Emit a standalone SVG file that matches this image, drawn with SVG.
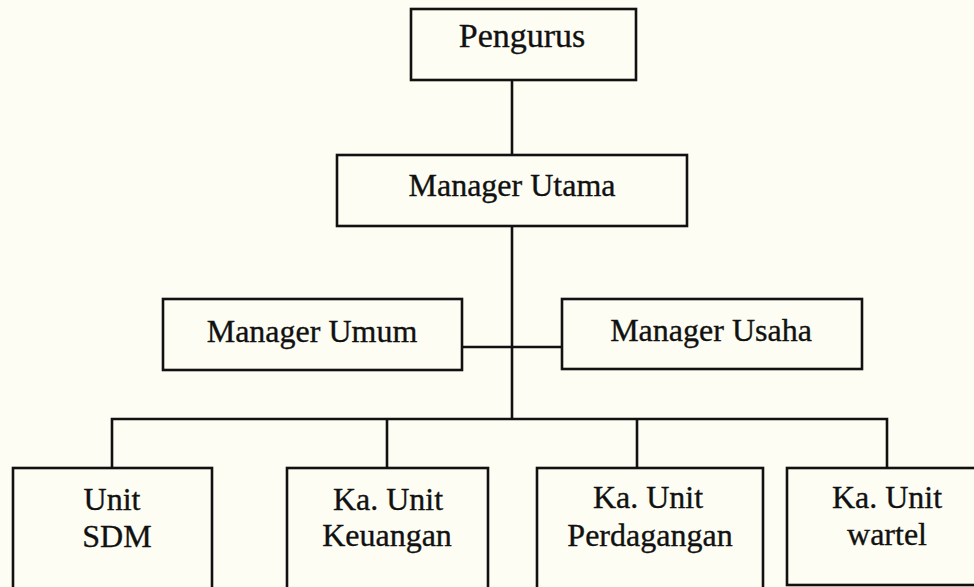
<svg xmlns="http://www.w3.org/2000/svg" width="974" height="587" viewBox="0 0 974 587">
  <style>
    .box { fill: none; stroke: #111; stroke-width: 2.6; }
    .wire { fill: none; stroke: #111; stroke-width: 2.6; }
    .lbl { font-family: "Liberation Serif", "Times New Roman", serif; font-size: 32px; fill: #111; stroke: #111; stroke-width: 0.35; text-anchor: middle; }
    .big { font-size: 34px; }
  </style>
  <rect width="974" height="587" fill="#fdfdf3"/>

  <g id="connectors">
    <line class="wire" x1="512" y1="80" x2="512" y2="155"/>
    <line class="wire" x1="512" y1="226" x2="512" y2="420"/>
    <line class="wire" x1="462" y1="347" x2="562" y2="347"/>
    <polyline class="wire" points="112,468 112,419 887,419 887,468"/>
    <line class="wire" x1="387" y1="419" x2="387" y2="468"/>
    <line class="wire" x1="637" y1="419" x2="637" y2="468"/>
  </g>

  <g id="pengurus">
    <rect class="box" x="411" y="9" width="225" height="71"/>
    <text class="lbl big" x="522" y="47">Pengurus</text>
  </g>
  <g id="manager-utama">
    <rect class="box" x="337" y="155" width="350" height="71"/>
    <text class="lbl" x="512" y="196">Manager Utama</text>
  </g>
  <g id="manager-umum">
    <rect class="box" x="163" y="299" width="299" height="71"/>
    <text class="lbl" x="312" y="342">Manager Umum</text>
  </g>
  <g id="manager-usaha">
    <rect class="box" x="562" y="299" width="300" height="70"/>
    <text class="lbl" x="711" y="341">Manager Usaha</text>
  </g>
  <g id="unit-sdm">
    <rect class="box" x="13" y="468" width="199" height="140"/>
    <text class="lbl" x="112" y="510">Unit</text>
    <text class="lbl" x="117" y="547">SDM</text>
  </g>
  <g id="unit-keuangan">
    <rect class="box" x="287" y="468" width="201" height="140"/>
    <text class="lbl" x="388" y="510">Ka. Unit</text>
    <text class="lbl" x="387" y="546">Keuangan</text>
  </g>
  <g id="unit-perdagangan">
    <rect class="box" x="537" y="468" width="226" height="140"/>
    <text class="lbl" x="648" y="508">Ka. Unit</text>
    <text class="lbl" x="650" y="546">Perdagangan</text>
  </g>
  <g id="unit-wartel">
    <rect class="box" x="787" y="468" width="200" height="117"/>
    <text class="lbl" x="887" y="508">Ka. Unit</text>
    <text class="lbl" x="887" y="545">wartel</text>
  </g>
</svg>
